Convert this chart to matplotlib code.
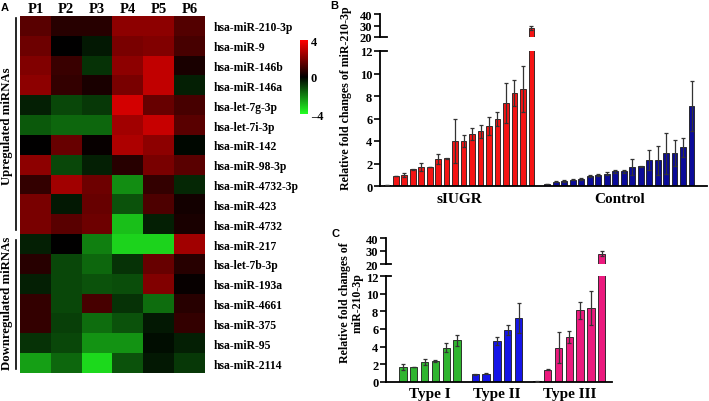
import numpy as np
import matplotlib
matplotlib.use("Agg")
import matplotlib.pyplot as plt
from matplotlib.colors import LinearSegmentedColormap
from matplotlib.lines import Line2D
from matplotlib.transforms import blended_transform_factory

plt.rcParams['font.family'] = ['Liberation Serif', 'DejaVu Serif']
plt.rcParams['font.weight'] = 'bold'

# ---- panel A data ----
samples = ['P1', 'P2', 'P3', 'P4', 'P5', 'P6']
mirnas = ['hsa-miR-210-3p', 'hsa-miR-9', 'hsa-miR-146b', 'hsa-miR-146a',
          'hsa-let-7g-3p', 'hsa-let-7i-3p', 'hsa-miR-142', 'hsa-miR-98-3p',
          'hsa-miR-4732-3p', 'hsa-miR-423', 'hsa-miR-4732', 'hsa-miR-217',
          'hsa-let-7b-3p', 'hsa-miR-193a', 'hsa-miR-4661', 'hsa-miR-375',
          'hsa-miR-95', 'hsa-miR-2114']
heat = np.array([
    [1.4, 0.6, 0.6, 2.2, 2.2, 1.3],
    [1.7, 0.0, -0.4, 1.9, 2.0, 1.1],
    [2.0, 0.9, -0.8, 2.2, 3.0, 0.4],
    [2.2, 0.8, 0.4, 1.9, 3.0, -0.5],
    [-0.5, -1.1, -0.9, 3.3, 1.6, 1.1],
    [-1.4, -1.6, -1.6, 2.5, 3.1, 1.4],
    [0.0, 1.6, 0.1, 2.7, 2.2, -0.1],
    [2.2, -1.1, -0.5, 0.6, 1.9, 1.4],
    [0.8, 2.5, 1.7, -2.2, 0.8, -0.6],
    [1.9, -0.4, 1.6, -1.3, 1.2, 0.3],
    [1.9, 1.4, 1.7, -3.0, -0.5, 0.4],
    [-0.5, 0.0, -2.0, -3.3, -3.3, 2.5],
    [0.6, -1.1, -1.6, -0.8, 1.6, 0.6],
    [-0.5, -1.1, -1.3, -1.2, 2.0, 0.1],
    [0.8, -1.1, 1.1, -0.8, -1.7, 0.6],
    [0.8, -1.0, -1.7, -1.3, -0.4, 0.8],
    [-0.8, -1.1, -2.3, -2.3, -0.2, -0.5],
    [-2.5, -1.6, -3.4, -1.3, -0.4, -0.9],
])
n_up = 11

# ---- panel B data ----
siugr_vals = [0.1, 0.9, 1.0, 1.5, 1.7, 1.7, 2.4, 2.45, 4.0, 4.0, 4.65, 4.85,
              5.3, 5.95, 7.4, 8.3, 8.6, 28]
siugr_err = [0.0, 0.0, 0.2, 0.05, 0.35, 0.0, 0.45, 0.05, 1.95, 0.55, 0.55, 0.55,
             0.8, 0.6, 1.8, 1.15, 2.05, 2.0]
ctrl_vals = [0.2, 0.4, 0.45, 0.55, 0.65, 0.9, 0.95, 1.1, 1.3, 1.3, 1.7, 1.75,
             2.3, 2.3, 2.9, 2.9, 3.45, 7.1]
ctrl_err = [0.0, 0.02, 0.05, 0.05, 0.1, 0.1, 0.1, 0.15, 0.1, 0.1, 0.7, 0.02,
            0.9, 1.3, 1.8, 1.15, 0.85, 2.2]

# ---- panel C data ----
type_names = ['Type I', 'Type II', 'Type III']
type1_vals = [1.7, 1.7, 2.3, 2.4, 3.9, 4.7]
type1_err = [0.3, 0.05, 0.35, 0.1, 0.5, 0.6]
type2_vals = [0.85, 0.95, 4.6, 5.9, 7.2]
type2_err = [0.02, 0.1, 0.45, 0.55, 1.7]
type3_vals = [0.1, 1.4, 3.9, 5.1, 8.1, 8.4, 28]
type3_err = [0.05, 0.05, 1.8, 0.7, 1.0, 1.9, 2.0]

W, H = 709, 402
fig = plt.figure(figsize=(W / 100, H / 100), dpi=100)


def box(l, t, r, b):
    return [l / W, 1 - b / H, (r - l) / W, (b - t) / H]


def pix(x, y):
    return x / W, 1 - y / H


# ================= A =================
cmap = LinearSegmentedColormap.from_list('gr', ['#22ff22', '#000000', '#ff0000'])
ax = fig.add_axes(box(20, 17, 205, 374))
im = ax.imshow(heat, cmap=cmap, vmin=-4, vmax=4, aspect='auto', interpolation='nearest')
ax.set_xticks(range(len(samples)))
ax.set_xticklabels(samples, fontsize=10.5)
ax.xaxis.tick_top()
ax.set_yticks(range(len(mirnas)))
ax.set_yticklabels(mirnas, fontsize=8.4)
ax.yaxis.tick_right()
ax.tick_params(length=0)
ax.tick_params(axis='x', pad=1)
ax.tick_params(axis='y', pad=6)
for s in ax.spines.values():
    s.set_visible(False)

cax = fig.add_axes(box(300, 41, 308, 115))
cb = fig.colorbar(im, cax=cax, ticks=[4, 0, -4])
cb.ax.set_yticklabels(['4', '0', '\u20134'], fontsize=9)
cb.ax.tick_params(length=0, pad=2)
cb.outline.set_visible(False)

# group brackets on the left
row_h = (374 - 17) / len(mirnas)
up_bottom = 17 + n_up * row_h
fig.add_artist(Line2D([15.5 / W] * 2, [1 - 19 / H, 1 - (up_bottom - 4) / H], color='black', lw=1.2))
fig.add_artist(Line2D([15.5 / W] * 2, [1 - (up_bottom + 6) / H, 1 - 370 / H], color='black', lw=1.2))
fig.text(*pix(7, 126), 'Upregulated miRNAs', rotation=90,
         ha='center', va='center', fontsize=9.2)
fig.text(*pix(7, 303), 'Downregulated miRNAs', rotation=90,
         ha='center', va='center', fontsize=9.2)
fig.text(*pix(1, 8), 'A', family='Liberation Sans', fontsize=8, ha='left', va='center')


# ================= helpers for broken bar panels =================
def broken_axes(l, t_up, b_up, t_low, b_low, r, xlim, ylow, yhigh):
    axu = fig.add_axes(box(l, t_up, r, b_up))
    axl = fig.add_axes(box(l, t_low, r, b_low))
    for a in (axu, axl):
        a.set_xlim(*xlim)
        a.spines['top'].set_visible(False)
        a.spines['right'].set_visible(False)
        a.spines['left'].set_linewidth(1.3)
        a.spines['bottom'].set_linewidth(1.3)
        a.tick_params(axis='y', direction='out', length=4, width=1.2, labelsize=9, pad=1.5)
        a.set_xticks([])
        a.patch.set_visible(False)
    axu.spines['bottom'].set_visible(False)
    axu.set_ylim(*yhigh)
    axu.set_yticks([20, 30, 40])
    axl.set_ylim(*ylow)
    axl.set_yticks(np.arange(0, 13, 2))
    # short feet at the break
    axu.plot([0, 0.022], [0, 0], transform=axu.transAxes, color='black', lw=1.3, clip_on=False)
    axl.plot([0, 0.022], [1, 1], transform=axl.transAxes, color='black', lw=1.3, clip_on=False)
    return axu, axl


def draw_bars(axes, pos, vals, err, color, width):
    for a in axes:
        a.bar(pos, vals, width=width, color=color, edgecolor='#1a1a1a', linewidth=0.6, zorder=2)
        a.errorbar(pos, vals, yerr=err, fmt='none', ecolor='#333333', elinewidth=0.9,
                   capsize=1.3, capthick=0.9, zorder=3)


# ================= B =================
siugr_pos = np.arange(len(siugr_vals))
ctrl_pos = np.arange(len(ctrl_vals)) + len(siugr_vals) + 0.88
bu, bl = broken_axes(380, 15, 38, 52, 187, 707, (-0.85, 37.7), (0, 12), (20, 40))
draw_bars((bu, bl), siugr_pos, siugr_vals, siugr_err, '#f51414', 0.68)
draw_bars((bu, bl), ctrl_pos, ctrl_vals, ctrl_err, '#0b0b98', 0.68)
tb = blended_transform_factory(bl.transData, bl.transAxes)
bl.text(siugr_pos.mean(), -0.09, 'sIUGR', transform=tb, ha='center', va='center', fontsize=11)
bl.text(ctrl_pos.mean(), -0.09, 'Control', transform=tb, ha='center', va='center', fontsize=11)
fig.text(*pix(346, 98), 'Relative fold changes of miR-210-3p', rotation=90,
         ha='center', va='center', fontsize=8.6)
fig.text(*pix(330, 6), 'B', family='Liberation Sans', fontsize=8, ha='left', va='center')

# ================= C =================
t1_pos = np.arange(len(type1_vals))
t2_pos = np.arange(len(type2_vals)) + t1_pos[-1] + 1.7
t3_pos = np.arange(len(type3_vals)) + t2_pos[-1] + 1.7
cu, cl = broken_axes(386, 239, 265, 277, 383, 612, (-1.57, 19.35), (0, 12), (20, 40))
draw_bars((cu, cl), t1_pos, type1_vals, type1_err, '#2fb52f', 0.68)
draw_bars((cu, cl), t2_pos, type2_vals, type2_err, '#1515e8', 0.68)
draw_bars((cu, cl), t3_pos, type3_vals, type3_err, '#ec1a7e', 0.68)
tc = blended_transform_factory(cl.transData, cl.transAxes)
for p, name in zip((t1_pos, t2_pos, t3_pos), type_names):
    cl.text(p.mean(), -0.11, name, transform=tc, ha='center', va='center', fontsize=11)
fig.text(*pix(351, 303), 'Relative fold changes of\nmiR-210-3p', rotation=90,
         ha='center', va='center', fontsize=8.6, linespacing=1.05)
fig.text(*pix(332, 234), 'C', family='Liberation Sans', fontsize=8, ha='left', va='center')

fig.savefig('out.png', dpi=100)
